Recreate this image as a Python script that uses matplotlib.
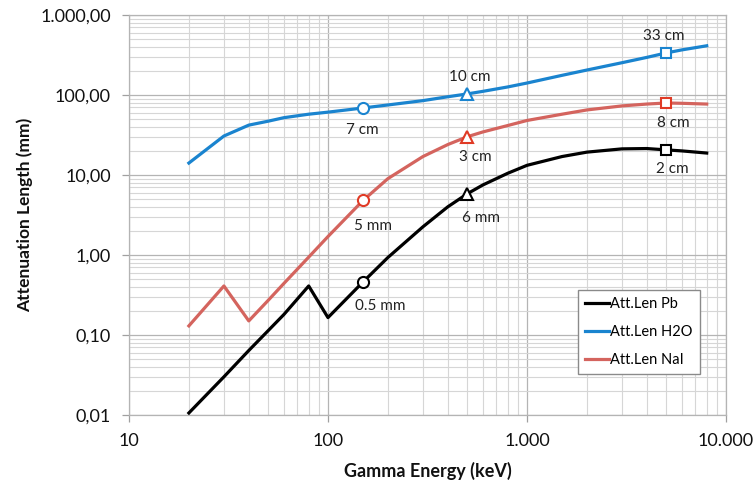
import matplotlib
matplotlib.use("Agg")
import matplotlib.pyplot as plt
from matplotlib.ticker import FuncFormatter, LogLocator, NullFormatter

plt.rcParams['font.family'] = ['Lato', 'DejaVu Sans']

# Gamma energies (keV)
energy = [20, 30, 40, 50, 60, 80, 100, 150, 200, 300, 400, 500, 600, 800,
          1000, 1500, 2000, 3000, 4000, 5000, 6000, 8000]

# Attenuation lengths (mm)
att_pb = [0.0106, 0.030, 0.064, 0.113, 0.18, 0.41, 0.165, 0.46, 0.93, 2.25,
          4.0, 5.8, 7.5, 10.5, 13.2, 17.0, 19.3, 21.2, 21.4, 20.6, 20.0, 18.8]
att_h2o = [14.1, 30.7, 42.0, 47.0, 52.0, 57.5, 61.0, 68.8, 75.0, 85.0,
           95.0, 103.0, 111.0, 126.0, 141.0, 176.0, 205.0, 253.0, 295.0,
           335.0, 366.0, 412.0]
att_nai = [0.13, 0.41, 0.15, 0.27, 0.44, 0.94, 1.7, 4.8, 9.0, 17.0, 24.0,
           30.0, 34.5, 41.5, 48.0, 57.5, 65.0, 73.0, 77.0, 79.4, 78.7, 77.0]

# Highlighted energies and the thickness labels shown next to them
mark_energy = [150, 500, 5000]
mark_style = ['o', '^', 's']
labels_pb = ['0.5 mm', '6 mm', '2 cm']
labels_h2o = ['7 cm', '10 cm', '33 cm']
labels_nai = ['5 mm', '3 cm', '8 cm']

x_ticks = [10, 100, 1000, 10000]
y_ticks = [0.01, 0.1, 1, 10, 100, 1000]

fig = plt.figure(figsize=(7.56, 4.83), dpi=100)
ax = fig.add_axes([0.1706, 0.1408, 0.7897, 0.8282])
ax.set_xscale('log')
ax.set_yscale('log')
ax.set_xlim(10, 10000)
ax.set_ylim(0.01, 1000)

series = [
    ('Att.Len Pb', att_pb, '#000000', '#000000', labels_pb,
     [(17, -24), (14, -24), (6, -19)]),
    ('Att.Len H2O', att_h2o, '#1a84cf', '#1a84cf', labels_h2o,
     [(-1, -22), (3, 17), (-2, 17)]),
    ('Att.Len NaI', att_nai, '#d4645e', '#e03a25', labels_nai,
     [(10, -26), (8, -20), (7, -20)]),
]

for name, vals, color, mcolor, labels, offsets in series:
    ax.plot(energy, vals, color=color, lw=2.3, label=name, zorder=3,
            solid_joinstyle='round')
    for e, m, lab, off in zip(mark_energy, mark_style, labels, offsets):
        v = vals[energy.index(e)]
        ax.plot([e], [v], marker=m, ms=8 if m != 's' else 7,
                mfc='white', mec=mcolor, mew=1.5, ls='none', zorder=4)
        ax.annotate(lab, (e, v), xytext=off, textcoords='offset pixels',
                    ha='center', va='center', fontsize=11, color='#222222')

# Grid
ax.xaxis.set_major_locator(LogLocator(base=10, numticks=10))
ax.yaxis.set_major_locator(LogLocator(base=10, numticks=10))
ax.xaxis.set_minor_locator(LogLocator(base=10, subs=range(2, 10), numticks=20))
ax.yaxis.set_minor_locator(LogLocator(base=10, subs=range(2, 10), numticks=20))
ax.xaxis.set_minor_formatter(NullFormatter())
ax.yaxis.set_minor_formatter(NullFormatter())
ax.grid(which='major', color='#b4b4b4', lw=0.9)
ax.grid(which='minor', color='#d6d6d6', lw=0.8)
ax.set_axisbelow(True)


def fmt_y(v, pos):
    s = f"{v:,.2f}"
    return s.replace(',', '#').replace('.', ',').replace('#', '.')


def fmt_x(v, pos):
    return f"{v:,.0f}".replace(',', '.')


ax.set_xticks(x_ticks)
ax.set_yticks(y_ticks)
ax.yaxis.set_major_formatter(FuncFormatter(fmt_y))
ax.xaxis.set_major_formatter(FuncFormatter(fmt_x))
ax.tick_params(which='major', length=5, width=0.9, color='#a0a0a0',
               labelsize=13, pad=8, labelcolor='#111111')
ax.tick_params(which='minor', length=0)

for side in ['left', 'bottom', 'top', 'right']:
    ax.spines[side].set_color('#b4b4b4')
    ax.spines[side].set_linewidth(0.9)

ax.set_xlabel('Gamma Energy (keV)', fontsize=13, fontweight='bold',
              labelpad=9, color='#111111')
ax.set_ylabel('Attenuation Length (mm)', fontsize=12.5, fontweight='bold',
              labelpad=5, color='#111111')

leg = ax.legend(loc='upper left', bbox_to_anchor=(0.752, 0.3125),
                borderaxespad=0, fontsize=10.5, handlelength=1.6,
                handletextpad=0.1, labelspacing=0.95, borderpad=0.5,
                fancybox=False, framealpha=1, edgecolor='#8a8a8a')
leg.get_frame().set_linewidth(1.0)

fig.savefig('out.png', dpi=100)
